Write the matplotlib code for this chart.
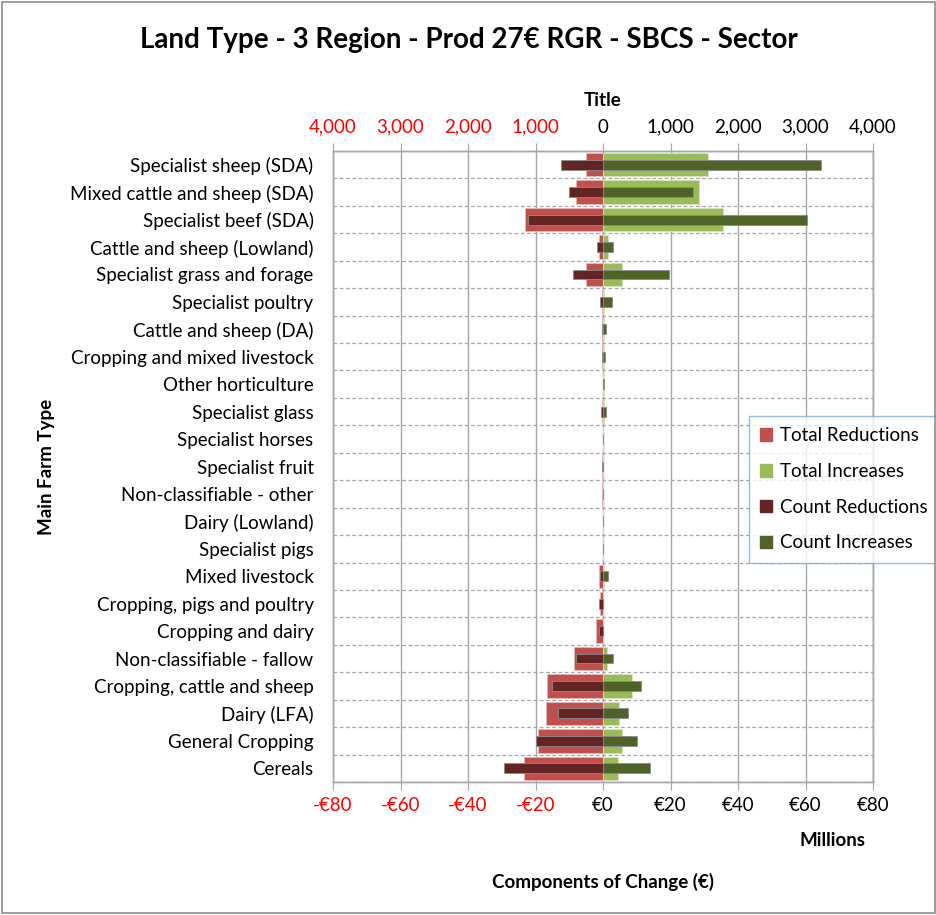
import matplotlib
matplotlib.use("Agg")
import matplotlib.pyplot as plt
from matplotlib.patches import Patch, Rectangle
import numpy as np

plt.rcParams['font.family'] = ['Lato', 'DejaVu Sans']

categories = [
    "Specialist sheep (SDA)", "Mixed cattle and sheep (SDA)", "Specialist beef (SDA)",
    "Cattle and sheep (Lowland)", "Specialist grass and forage", "Specialist poultry",
    "Cattle and sheep (DA)", "Cropping and mixed livestock", "Other horticulture",
    "Specialist glass", "Specialist horses", "Specialist fruit", "Non-classifiable - other",
    "Dairy (Lowland)", "Specialist pigs", "Mixed livestock", "Cropping, pigs and poultry",
    "Cropping and dairy", "Non-classifiable - fallow", "Cropping, cattle and sheep",
    "Dairy (LFA)", "General Cropping", "Cereals",
]
# euro millions
total_reductions = [-4.9, -8.1, -23.0, -1.1, -5.1, -0.4, -0.3, -0.2, -0.1, -0.3, 0, -0.2, -0.2,
                    -0.1, -0.1, -1.2, -0.85, -2.1, -8.6, -16.6, -17.0, -19.4, -23.4]
total_increases = [31.2, 28.4, 35.7, 1.4, 5.5, 0.3, 0.3, 0.2, 0.2, 0.3, 0, 0, 0,
                   0, 0, 0.2, 0, 0, 1.1, 8.6, 4.8, 5.5, 4.4]
# farm counts
count_reductions = [-619, -503, -1111, -85, -444, -42, -10, -10, -5, -30, 0, -10, -5,
                    -5, -5, -48, -53, -58, -402, -757, -672, -995, -1466]
count_increases = [3228, 1333, 3021, 148, 974, 138, 42, 25, 15, 42, 0, 0, 0,
                   0, 0, 74, 0, 0, 148, 566, 376, 503, 698]

euro_ticks = [-80, -60, -40, -20, 0, 20, 40, 60, 80]
count_ticks = [-4000, -3000, -2000, -1000, 0, 1000, 2000, 3000, 4000]

c_tr, c_ti, c_cr, c_ci = '#C0504D', '#9BBB59', '#632523', '#4F6228'
grid_c = '#A6A6A6'
fs = 13.5

fig = plt.figure(figsize=(9.37, 9.15), dpi=100)
ax = fig.add_axes([333 / 937, 1 - 782 / 915, 540 / 937, 631 / 915])
ax2 = ax.twiny()

y = np.arange(len(categories))
ax.barh(y, total_reductions, height=0.85, color=c_tr, edgecolor='#E6B9B8', linewidth=0.6, zorder=3)
ax.barh(y, total_increases, height=0.85, color=c_ti, edgecolor='#D7E4BD', linewidth=0.6, zorder=3)
ax2.barh(y, count_reductions, height=0.36, color=c_cr, edgecolor='#8C8C8C', linewidth=0.6, zorder=3)
ax2.barh(y, count_increases, height=0.36, color=c_ci, edgecolor='#8C8C8C', linewidth=0.6, zorder=3)

ax.set_xlim(-80, 80)
ax2.set_xlim(-4000, 4000)
ax.set_ylim(len(categories) - 0.5, -0.5)

ax.set_yticks(y)
ax.set_yticklabels(categories, fontsize=fs)
ax.set_yticks(np.arange(len(categories) + 1) - 0.5, minor=True)
ax.tick_params(axis='y', which='both', length=0, pad=14)
ax.grid(axis='y', which='minor', color=grid_c, linestyle=(0, (3, 2)), linewidth=0.9)

ax.set_xticks(euro_ticks)
ax.set_xticklabels([f"-€{abs(t)}" if t < 0 else f"€{t}" for t in euro_ticks], fontsize=fs)
ax.grid(axis='x', color=grid_c, linewidth=1.0, zorder=0)
ax.set_axisbelow(True)
ax.tick_params(axis='x', length=6, color=grid_c, pad=5)

ax2.set_xticks(count_ticks)
ax2.set_xticklabels([f"{abs(t):,}" for t in count_ticks], fontsize=fs)
ax2.tick_params(axis='x', length=6, color=grid_c, pad=5)

for lab, t in zip(ax.get_xticklabels(), euro_ticks):
    lab.set_color('red' if t < 0 else 'black')
for lab, t in zip(ax2.get_xticklabels(), count_ticks):
    lab.set_color('red' if t < 0 else 'black')

for a in (ax, ax2):
    for s in a.spines.values():
        s.set_color(grid_c)
        s.set_linewidth(1.0)

ax.set_ylabel("Main Farm Type", fontsize=fs, fontweight='bold')
ax.yaxis.set_label_coords(-0.515, 0.5)
ax2.set_xlabel("Title", fontsize=fs, fontweight='bold', labelpad=9)
ax.set_xlabel("Components of Change (€)", fontsize=fs, fontweight='bold', labelpad=42)
fig.text(833 / 937, 1 - 840 / 915, "Millions", fontsize=fs, fontweight='bold',
         ha='center', va='center')

fig.text(0.5, 1 - 40 / 915, "Land Type - 3 Region - Prod 27€ RGR - SBCS - Sector",
         fontsize=20, fontweight='bold', ha='center', va='center')

handles = [Patch(color=c_tr, label='Total Reductions'), Patch(color=c_ti, label='Total Increases'),
           Patch(color=c_cr, label='Count Reductions'), Patch(color=c_ci, label='Count Increases')]
leg = ax2.legend(handles=handles, loc='upper left', bbox_to_anchor=(749 / 937, 1 - 416 / 915),
                 bbox_transform=fig.transFigure, fontsize=fs, frameon=True, fancybox=False,
                 handlelength=0.65, handleheight=0.65, handletextpad=0.4, labelspacing=1.0,
                 borderpad=0.6, borderaxespad=0)
leg.get_frame().set_edgecolor('#7FA7D9')
leg.get_frame().set_linewidth(1.0)
leg.set_zorder(10)

fig.patches.append(Rectangle((0.002, 0.002), 0.996, 0.996, transform=fig.transFigure,
                             fill=False, edgecolor='#8C8C8C', linewidth=1.2))

fig.savefig("out.png", dpi=100)
